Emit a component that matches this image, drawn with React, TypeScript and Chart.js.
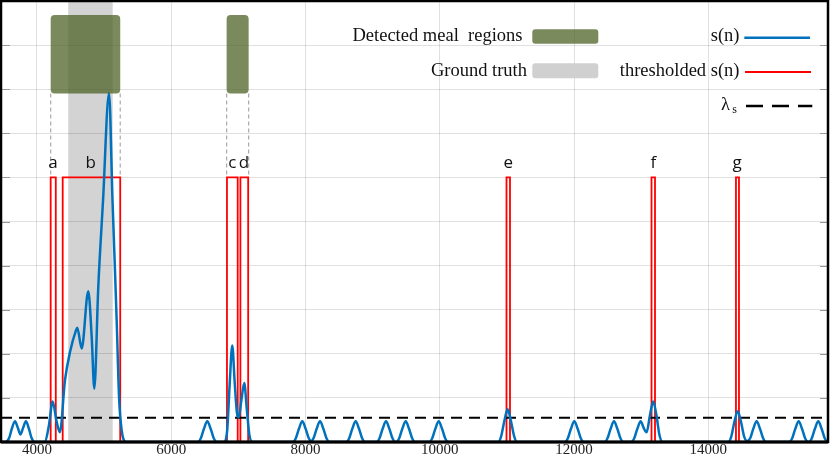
import React, { useEffect, useRef } from "react";
import { Chart, registerables } from "chart.js";
Chart.register(...registerables);

// ---------- data ----------
const X_MIN = 3464;
const X_MAX = 15783;
const Y_MIN = 0;
const Y_MAX = 10;
const xTickValues = [4000, 6000, 8000, 10000, 12000, 14000];

// s(n) samples
const signalX = [
  3464,
  3530, 3585, 3625, 3672, 3715, 3754, 3793, 3835, 3880, 3920, 3965,
  4115, 4175, 4234, 4290, 4341, 4417, 4492, 4581, 4600, 4666, 4764, 4815, 4854, 4913, 4984, 5073, 5125, 5162, 5187, 5223, 5262, 5326,
  6397, 6442, 6487, 6537, 6587, 6632, 6677,
  6790, 6835, 6870, 6909, 6945, 6980, 7005, 7045, 7088, 7125, 7165, 7212,
  7812, 7857, 7902, 7952, 8002, 8047, 8084, 8121, 8166, 8216, 8266, 8311, 8356,
  8607, 8652, 8697, 8747, 8797, 8842, 8887,
  9059, 9104, 9149, 9199, 9249, 9294, 9339,
  9352, 9397, 9442, 9492, 9542, 9587, 9632,
  9844, 9889, 9934, 9984, 10034, 10079, 10124,
  10871, 10916, 10961, 11011, 11061, 11106, 11151,
  11864, 11909, 11954, 12004, 12054, 12099, 12144,
  12455, 12500, 12545, 12595, 12645, 12690, 12735,
  12853, 12898, 12943, 12993, 13037, 13081, 13130, 13180, 13228, 13272, 13320,
  14298, 14343, 14388, 14438, 14488, 14533, 14579, 14625, 14670, 14720, 14770, 14815, 14860,
  15206, 15251, 15296, 15346, 15396, 15441, 15486,
  15498, 15543, 15588, 15638, 15688, 15733, 15778,
  15783,
];
const signalY = [
  0,
  0, 0.09, 0.3, 0.47, 0.32, 0.17, 0.32, 0.47, 0.3, 0.09, 0,
  0, 0.35, 0.92, 0.48, 0.22, 1.4, 2.04, 2.53, 2.59, 2.12, 3.42, 2.38, 1.21, 3.51, 5.48, 7.91, 5.48, 3.89, 2.76, 1.0, 0.26, 0,
  0, 0.09, 0.3, 0.47, 0.3, 0.09, 0,
  0, 0.3, 1.3, 2.19, 1.35, 0.65, 0.56, 0.95, 1.34, 0.75, 0.15, 0,
  0, 0.09, 0.3, 0.47, 0.3, 0.09, 0.02, 0.09, 0.3, 0.47, 0.3, 0.09, 0,
  0, 0.09, 0.3, 0.47, 0.3, 0.09, 0,
  0, 0.09, 0.3, 0.47, 0.3, 0.09, 0,
  0, 0.09, 0.3, 0.47, 0.3, 0.09, 0,
  0, 0.09, 0.3, 0.47, 0.3, 0.09, 0,
  0, 0.14, 0.47, 0.74, 0.47, 0.14, 0,
  0, 0.09, 0.3, 0.47, 0.3, 0.09, 0,
  0, 0.09, 0.3, 0.47, 0.3, 0.09, 0,
  0, 0.09, 0.3, 0.47, 0.32, 0.22, 0.6, 0.92, 0.6, 0.16, 0,
  0, 0.13, 0.45, 0.7, 0.45, 0.13, 0.02, 0.09, 0.3, 0.47, 0.3, 0.09, 0,
  0, 0.09, 0.3, 0.47, 0.3, 0.09, 0,
  0, 0.09, 0.3, 0.47, 0.3, 0.09, 0,
  0,
];

// thresholded s(n) pulses
const pulseStart = [4204, 4383, 6830, 7030, 10994, 13154, 14412];
const pulseEnd = [4280, 5240, 6990, 7146, 11046, 13206, 14457];
const pulseHigh = 6;
const pulseLabels = ["a", "b", "c", "d", "e", "f", "g"];
const pulseLabelX = [4240, 4800, 6909, 7083, 11021, 13181, 14430];
const pulseLabelY = 6.22;

// threshold lambda_s
const lambdaS = 0.55;

// detected meal regions and ground truth
const mealStart = [4204, 6825];
const mealEnd = [5240, 7153];
const mealLow = 7.9;
const mealHigh = 9.68;
const truthStart = [4466];
const truthEnd = [5128];

// ---------- styles ----------
const BLUE = "rgb(0,114,189)";
const RED = "rgb(255,0,0)";
const GREEN = "rgba(78,99,38,0.75)";
const GRAY = "#d3d3d3";
const GRID = "rgba(0,0,0,0.12)";
const SERIF = '"Liberation Serif", serif';

const decor = {
  id: "decor",
  beforeDraw(chart: any) {
    const { ctx, chartArea: a, scales } = chart;
    const xs = scales.x;
    ctx.save();
    ctx.fillStyle = GRAY;
    truthStart.forEach((s, i) => {
      const x0 = xs.getPixelForValue(s);
      const x1 = xs.getPixelForValue(truthEnd[i]);
      ctx.fillRect(x0, a.top, x1 - x0, a.bottom - a.top);
    });
    ctx.restore();
  },
  afterDatasetsDraw(chart: any) {
    const { ctx, chartArea: a, scales } = chart;
    const xs = scales.x;
    const ys = scales.y;
    ctx.save();
    // dashed guides
    ctx.strokeStyle = "#aaaaaa";
    ctx.lineWidth = 1.2;
    ctx.setLineDash([4, 3]);
    mealStart.forEach((s, i) => {
      [s, mealEnd[i]].forEach((v) => {
        const px = xs.getPixelForValue(v);
        ctx.beginPath();
        ctx.moveTo(px, ys.getPixelForValue(mealLow));
        ctx.lineTo(px, ys.getPixelForValue(pulseHigh));
        ctx.stroke();
      });
    });
    ctx.setLineDash([]);
    // meal regions
    ctx.fillStyle = GREEN;
    mealStart.forEach((s, i) => {
      const x0 = xs.getPixelForValue(s);
      const x1 = xs.getPixelForValue(mealEnd[i]);
      const y0 = ys.getPixelForValue(mealHigh);
      const y1 = ys.getPixelForValue(mealLow);
      ctx.beginPath();
      (ctx as any).roundRect(x0, y0, x1 - x0, y1 - y0, 4);
      ctx.fill();
    });
    // pulse labels
    ctx.fillStyle = "#111";
    ctx.font = '17px "Open Sans", sans-serif';
    ctx.textAlign = "center";
    ctx.textBaseline = "alphabetic";
    pulseLabels.forEach((t, i) => {
      ctx.fillText(t, xs.getPixelForValue(pulseLabelX[i]), ys.getPixelForValue(pulseLabelY));
    });
    // inner y ticks
    ctx.strokeStyle = "#999";
    ctx.lineWidth = 1;
    for (let v = Y_MIN + 1; v < Y_MAX; v++) {
      const py = Math.round(ys.getPixelForValue(v)) + 0.5;
      ctx.beginPath();
      ctx.moveTo(a.left, py);
      ctx.lineTo(a.left + 9, py);
      ctx.moveTo(a.right - 8, py);
      ctx.lineTo(a.right, py);
      ctx.stroke();
    }
    // frame
    ctx.strokeStyle = "#000";
    ctx.lineWidth = 2.5;
    ctx.strokeRect(a.left, a.top, a.right - a.left, a.bottom - a.top);
    ctx.lineWidth = 3;
    ctx.beginPath();
    ctx.moveTo(a.left, a.bottom);
    ctx.lineTo(a.right, a.bottom);
    ctx.stroke();
    ctx.restore();
  },
  afterDraw(chart: any) {
    const { ctx } = chart;
    ctx.save();
    ctx.fillStyle = "#111";
    ctx.font = `18.5px ${SERIF}`;
    ctx.textAlign = "right";
    ctx.textBaseline = "alphabetic";
    ctx.fillText("Detected meal  regions", 522.5, 41);
    ctx.fillText("Ground truth", 527, 76);
    ctx.fillText("s(n)", 739.5, 41);
    ctx.fillText("thresholded s(n)", 739.5, 76);
    ctx.font = `12px ${SERIF}`;
    ctx.fillText("s", 737, 113);
    ctx.font = `18.5px ${SERIF}`;
    ctx.fillText("λ", 730, 110);
    // swatches
    ctx.fillStyle = GREEN;
    ctx.beginPath();
    (ctx as any).roundRect(532.3, 29.3, 66, 14.4, 3);
    ctx.fill();
    ctx.fillStyle = "#d0d0d0";
    ctx.beginPath();
    (ctx as any).roundRect(532.3, 63.3, 66, 15, 3);
    ctx.fill();
    // lines
    ctx.lineWidth = 2.5;
    ctx.strokeStyle = BLUE;
    ctx.beginPath();
    ctx.moveTo(744.3, 37.7);
    ctx.lineTo(810, 37.7);
    ctx.stroke();
    ctx.lineWidth = 2;
    ctx.strokeStyle = RED;
    ctx.beginPath();
    ctx.moveTo(745, 72);
    ctx.lineTo(811, 72);
    ctx.stroke();
    ctx.lineWidth = 2.5;
    ctx.strokeStyle = "#000";
    ctx.setLineDash([17, 9]);
    ctx.beginPath();
    ctx.moveTo(746, 106);
    ctx.lineTo(812.3, 106);
    ctx.stroke();
    ctx.restore();
  },
};

export default function App() {
  const ref = useRef<HTMLCanvasElement>(null);
  useEffect(() => {
    const canvas = ref.current;
    if (!canvas) return;
    const signal = signalX.map((x, i) => ({ x, y: signalY[i] }));
    const thresholded: { x: number; y: number }[] = [];
    pulseStart.forEach((s, i) => {
      thresholded.push({ x: s, y: 0 }, { x: s, y: pulseHigh }, { x: pulseEnd[i], y: pulseHigh }, { x: pulseEnd[i], y: 0 });
    });
    const chart = new Chart(canvas, {
      type: "line",
      data: {
        datasets: [
          {
            label: "s(n)",
            data: signal,
            borderColor: BLUE,
            borderWidth: 2.5,
            pointRadius: 0,
            cubicInterpolationMode: "monotone",
            fill: false,
          },
          {
            label: "λs",
            data: [
              { x: X_MIN, y: lambdaS },
              { x: X_MAX, y: lambdaS },
            ],
            borderColor: "#000",
            borderWidth: 2,
            borderDash: [11, 7],
            pointRadius: 0,
            fill: false,
          },
          {
            label: "thresholded s(n)",
            data: thresholded,
            borderColor: RED,
            borderWidth: 1.8,
            pointRadius: 0,
            tension: 0,
            fill: false,
          },
        ],
      },
      options: {
        animation: false,
        responsive: false,
        devicePixelRatio: 1,
        layout: { padding: { left: 1, right: 2, top: 1, bottom: 0 } },
        plugins: { legend: { display: false }, tooltip: { enabled: false } },
        scales: {
          x: {
            type: "linear",
            min: X_MIN,
            max: X_MAX,
            afterBuildTicks: (scale: any) => {
              scale.ticks = xTickValues.map((v) => ({ value: v }));
            },
            afterFit: (scale: any) => {
              scale.height = 13;
            },
            ticks: {
              callback: (v: any) => String(v),
              font: { family: SERIF, size: 15 },
              color: "#222",
              padding: -1,
              maxRotation: 0,
              autoSkip: false,
            },
            grid: { color: GRID, lineWidth: 1, drawTicks: false },
            border: { display: false },
          },
          y: {
            type: "linear",
            min: Y_MIN,
            max: Y_MAX,
            ticks: { stepSize: 1, display: false },
            afterFit: (scale: any) => {
              scale.width = 0;
            },
            grid: { color: GRID, lineWidth: 1, drawTicks: false },
            border: { display: false },
          },
        },
      } as any,
      plugins: [decor as any],
    });
    return () => chart.destroy();
  }, []);
  return (
    <div style={{ position: "absolute", left: 0, top: 0, width: 830, height: 455, background: "#fff" }}>
      <canvas ref={ref} width={830} height={455} style={{ display: "block" }} />
    </div>
  );
}
